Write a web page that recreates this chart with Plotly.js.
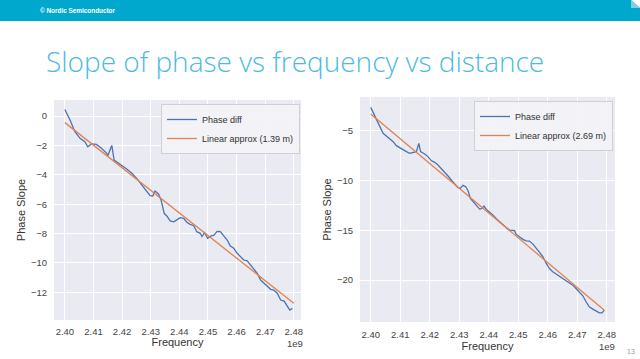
<!DOCTYPE html>
<html>
<head>
<meta charset="utf-8">
<script src="https://cdn.plot.ly/plotly-3.0.1.min.js"></script>
<style>html,body{margin:0;padding:0;background:#fff;}#chart{width:640px;height:359px;}</style>
</head>
<body>
<div id="chart"></div>
<script>
// Left chart (1.39 m): frequency in units of 1e9 Hz
const freqA = [2.4000,2.4018,2.4035,2.4053,2.4070,2.4080,2.4093,2.4110,2.4128,2.4146,2.4150,2.4164,2.4172,2.4193,2.4216,2.4234,2.4251,2.4269,2.4286,2.4298,2.4307,2.4315,2.4327,2.4336,2.4347,2.4356,2.4368,2.4380,2.4391,2.4403,2.4415,2.4426,2.4438,2.4450,2.4461,2.4473,2.4479,2.4488,2.4499,2.4511,2.4520,2.4532,2.4543,2.4555,2.4567,2.4578,2.4590,2.4602,2.4613,2.4625,2.4637,2.4648,2.4660,2.4672,2.4684,2.4695,2.4707,2.4719,2.4730,2.4742,2.4754,2.4766,2.4777,2.4786,2.4795];
const phaseA = [0.45,-0.27,-1.07,-1.52,-1.75,-2.09,-1.90,-1.93,-2.20,-2.54,-2.70,-2.00,-3.00,-3.27,-3.60,-3.90,-4.24,-4.70,-5.15,-5.42,-5.44,-5.10,-5.30,-5.71,-6.62,-6.80,-7.14,-7.20,-7.07,-6.92,-6.96,-7.23,-7.37,-7.46,-7.87,-7.98,-8.20,-7.94,-8.32,-8.16,-8.12,-7.85,-7.87,-8.16,-8.44,-8.84,-9.00,-9.34,-9.57,-9.80,-9.86,-10.14,-10.39,-10.70,-11.16,-11.34,-11.60,-11.79,-11.84,-12.06,-12.52,-12.59,-12.93,-13.20,-13.08];
const fitFreqA = [2.4000, 2.4800];
const fitA = [-0.45, -12.74];

// Right chart (2.69 m)
const freqB = [2.4000,2.4008,2.4019,2.4030,2.4042,2.4053,2.4064,2.4076,2.4087,2.4098,2.4109,2.4121,2.4132,2.4143,2.4155,2.4163,2.4169,2.4183,2.4194,2.4205,2.4217,2.4228,2.4239,2.4250,2.4262,2.4273,2.4284,2.4296,2.4304,2.4313,2.4322,2.4330,2.4338,2.4347,2.4358,2.4369,2.4377,2.4384,2.4392,2.4403,2.4414,2.4425,2.4437,2.4448,2.4459,2.4471,2.4480,2.4488,2.4493,2.4505,2.4516,2.4527,2.4538,2.4550,2.4561,2.4572,2.4584,2.4595,2.4606,2.4617,2.4629,2.4640,2.4651,2.4662,2.4674,2.4685,2.4696,2.4707,2.4719,2.4730,2.4741,2.4753,2.4764,2.4775,2.4784,2.4792];
const phaseB = [-2.66,-3.19,-3.76,-4.60,-5.27,-5.54,-5.77,-6.10,-6.50,-6.67,-6.87,-7.10,-7.28,-7.21,-7.10,-6.27,-7.10,-7.34,-7.60,-8.00,-8.18,-8.45,-8.78,-9.15,-9.55,-9.95,-10.29,-10.72,-10.79,-10.49,-10.62,-11.03,-11.80,-12.13,-12.47,-12.87,-12.80,-12.57,-12.90,-13.14,-13.47,-13.80,-14.14,-14.47,-14.71,-14.98,-15.04,-15.04,-15.41,-15.71,-15.91,-16.05,-16.08,-16.38,-16.82,-17.19,-17.65,-18.32,-18.83,-19.16,-19.40,-19.56,-19.83,-20.07,-20.27,-20.50,-20.84,-21.17,-21.57,-22.17,-22.68,-22.91,-23.11,-23.28,-23.28,-23.01];
const fitFreqB = [2.4000, 2.4792];
const fitB = [-3.33, -23.01];

const xTicks = [2.40,2.41,2.42,2.43,2.44,2.45,2.46,2.47,2.48];
const xTickText = ['2.40','2.41','2.42','2.43','2.44','2.45','2.46','2.47','2.48'];
const yTicksA = [0,-2,-4,-6,-8,-10,-12];
const yTicksB = [-5,-10,-15,-20];
const seriesNames = ['Phase diff'];
const fitNameA = 'Linear approx (1.39 m)';
const fitNameB = 'Linear approx (2.69 m)';
const slideTitle = 'Slope of phase vs frequency vs distance';
const footer = '© Nordic Semiconductor';
const pageNum = '13';

const W = 640, H = 359;
const px = v => v / W, py = v => 1 - v / H;
const BLUE = '#4C72B0', ORANGE = '#DD8452';
const tickFont = {family: 'Liberation Sans, Arial, sans-serif', size: 9.5, color: '#444'};
const titleFont = {family: 'Liberation Sans, Arial, sans-serif', size: 11, color: '#333'};

const traces = [
  {x: freqA, y: phaseA, type: 'scatter', mode: 'lines', name: seriesNames[0], line: {color: BLUE, width: 1.3}, xaxis: 'x', yaxis: 'y', legend: 'legend'},
  {x: fitFreqA, y: fitA, type: 'scatter', mode: 'lines', name: fitNameA, line: {color: ORANGE, width: 1.3}, xaxis: 'x', yaxis: 'y', legend: 'legend'},
  {x: freqB, y: phaseB, type: 'scatter', mode: 'lines', name: seriesNames[0], line: {color: BLUE, width: 1.3}, xaxis: 'x2', yaxis: 'y2', legend: 'legend2'},
  {x: fitFreqB, y: fitB, type: 'scatter', mode: 'lines', name: fitNameB, line: {color: ORANGE, width: 1.3}, xaxis: 'x2', yaxis: 'y2', legend: 'legend2'}
];

const axBase = {
  showline: false, zeroline: false, showgrid: true, gridcolor: '#ffffff', gridwidth: 1,
  ticks: '', tickfont: tickFont, title: {font: titleFont}
};

const legendBase = {
  bgcolor: 'rgba(242,242,247,0.92)', bordercolor: '#cfcfd6', borderwidth: 1,
  font: {family: 'Liberation Sans, Arial, sans-serif', size: 9, color: '#333'},
  itemwidth: 30, tracegroupgap: 0, xanchor: 'right', yanchor: 'top'
};

const layout = {
  width: W, height: H,
  margin: {l: 0, r: 0, t: 0, b: 0},
  paper_bgcolor: '#ffffff', plot_bgcolor: '#EAEAF2',
  showlegend: true,
  xaxis: Object.assign({}, axBase, {domain: [px(54), px(301)], range: [2.3962, 2.4825], tickvals: xTicks, ticktext: xTickText, anchor: 'y', ticklabelstandoff: 4,
    title: {text: 'Frequency', font: titleFont, standoff: 2}}),
  yaxis: Object.assign({}, axBase, {domain: [py(320), py(100)], range: [-13.88, 1.09], tickvals: yTicksA, anchor: 'x', ticklabelstandoff: 6,
    title: {text: 'Phase Slope', font: titleFont, standoff: 3}}),
  xaxis2: Object.assign({}, axBase, {domain: [px(360), px(615)], range: [2.39637, 2.48281], tickvals: xTicks, ticktext: xTickText, anchor: 'y2', ticklabelstandoff: 5,
    title: {text: 'Frequency', font: titleFont, standoff: 3}}),
  yaxis2: Object.assign({}, axBase, {domain: [py(322), py(97)], range: [-24.2, -1.62], tickvals: yTicksB, anchor: 'x2', ticklabelstandoff: 6,
    title: {text: 'Phase Slope', font: titleFont, standoff: 3}}),
  legend: Object.assign({}, legendBase, {x: px(300), y: py(104)}),
  legend2: Object.assign({}, legendBase, {x: px(613), y: py(101)}),
  shapes: [
    {type: 'path', xref: 'paper', yref: 'paper', layer: 'below',
     path: 'M 0 1 L ' + px(631) + ' 1 L 1 ' + py(8) + ' L 1 ' + py(21) + ' L 0 ' + py(21) + ' Z',
     fillcolor: '#00A8CE', line: {width: 0}},
    {type: 'path', xref: 'paper', yref: 'paper', layer: 'below',
     path: 'M ' + px(631) + ' 1 L ' + px(631) + ' ' + py(8) + ' L 1 ' + py(8) + ' Z',
     fillcolor: '#7fcfe3', line: {width: 0}}
  ],
  annotations: [
    {text: footer, xref: 'paper', yref: 'paper', x: px(38), y: py(10), xanchor: 'left', yanchor: 'middle', showarrow: false,
     font: {family: 'Liberation Sans, Arial, sans-serif', size: 6.4, color: '#ffffff', weight: 'bold'}},
    {text: slideTitle, xref: 'paper', yref: 'paper', x: px(44), y: py(61), xanchor: 'left', yanchor: 'middle', showarrow: false,
     font: {family: 'Open Sans, sans-serif', size: 28, color: '#4DBAE4', weight: 300}},
    {text: '1e9', xref: 'paper', yref: 'paper', x: px(295), y: py(343), xanchor: 'center', yanchor: 'middle', showarrow: false, font: tickFont},
    {text: '1e9', xref: 'paper', yref: 'paper', x: px(607), y: py(346), xanchor: 'center', yanchor: 'middle', showarrow: false, font: tickFont},
    {text: pageNum, xref: 'paper', yref: 'paper', x: px(631), y: py(351), xanchor: 'center', yanchor: 'middle', showarrow: false,
     font: {family: 'Liberation Sans, Arial, sans-serif', size: 7, color: '#999'}}
  ]
};

Plotly.newPlot('chart', traces, layout, {staticPlot: true, displayModeBar: false});
</script>
</body>
</html>
